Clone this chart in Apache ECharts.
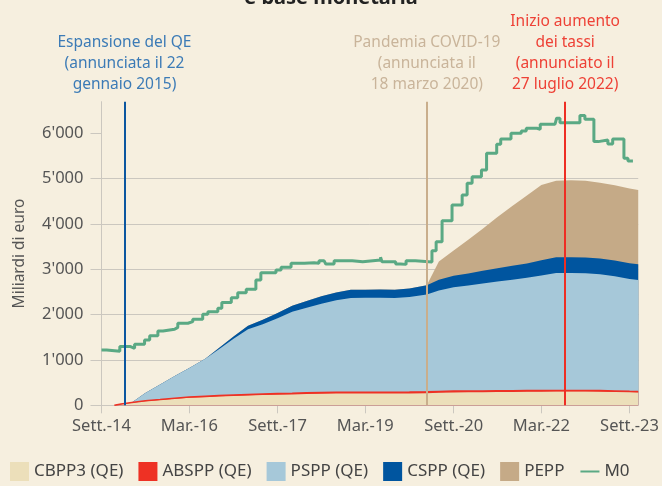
<!DOCTYPE html>
<html>
<head>
<meta charset="utf-8">
<script src="https://cdn.jsdelivr.net/npm/echarts@6/dist/echarts.min.js"></script>
<style>
  html, body { margin: 0; padding: 0; background: #f6efdf; }
  #chart { width: 662px; height: 486px; }
</style>
</head>
<body>
<div id="chart"></div>
<script>
// date grid shared by the APP/PEPP areas
const dates = ['2014-11-20', '2015-01-01', '2015-03-09', '2015-06-01', '2015-09-01', '2015-12-01',
  '2016-03-01', '2016-06-08', '2016-09-01', '2016-12-01', '2017-03-01', '2017-06-01', '2017-09-01',
  '2017-12-01', '2018-03-01', '2018-06-01', '2018-09-01', '2018-12-01', '2019-03-01', '2019-06-01',
  '2019-09-01', '2019-12-01', '2020-03-18', '2020-06-01', '2020-09-01', '2020-12-01', '2021-03-01',
  '2021-06-01', '2021-09-01', '2021-12-01', '2022-03-01', '2022-06-01', '2022-09-01', '2022-12-01',
  '2023-03-01', '2023-06-01', '2023-09-01', '2023-10-25'];

// miliardi di euro
const cbpp3 = [0, 25, 55, 90, 115, 143, 165, 180, 193, 204, 215, 225, 235, 241, 248, 255, 259, 262, 262, 262,
  262, 263, 268, 276, 283, 287, 290, 293, 296, 298, 300, 302, 302, 302, 300, 295, 288, 285];
const abspp = [0, 2, 5, 8, 12, 15, 18, 20, 22, 23, 24, 25, 25, 25, 27, 27, 27, 28, 26, 26,
  27, 28, 29, 30, 30, 29, 28, 28, 27, 28, 27, 26, 25, 25, 24, 23, 22, 22];
const pspp = [0, 0, 0, 175, 330, 490, 640, 830, 1020, 1240, 1440, 1540, 1660, 1800, 1880, 1960, 2030, 2080, 2085, 2085,
  2080, 2100, 2150, 2230, 2290, 2330, 2370, 2410, 2450, 2490, 2540, 2590, 2590, 2585, 2570, 2530, 2480, 2460];
const cspp = [0, 0, 0, 0, 0, 0, 0, 0, 30, 52, 75, 100, 118, 132, 148, 162, 172, 178, 178, 180,
  180, 188, 200, 235, 255, 265, 280, 295, 305, 315, 335, 350, 352, 350, 348, 347, 346, 345];
const pepp = [0, 0, 0, 0, 0, 0, 0, 0, 0, 0, 0, 0, 0, 0, 0, 0, 0, 0, 0, 0,
  0, 0, 0, 400, 560, 740, 930, 1130, 1320, 1500, 1660, 1690, 1695, 1695, 1670, 1660, 1650, 1641];

// base monetaria (step changes)
const m0Dates = ['2014-09-01', '2014-10-03', '2014-12-24', '2015-02-25', '2015-03-26', '2015-05-27', '2015-06-28',
  '2015-08-18', '2015-09-19', '2015-11-30', '2015-12-20', '2016-02-21', '2016-03-22', '2016-05-23', '2016-06-24',
  '2016-08-25', '2016-09-19', '2016-11-17', '2016-12-27', '2017-02-18', '2017-04-19', '2017-05-20', '2017-08-22',
  '2017-09-23', '2017-11-24', '2018-02-15', '2018-04-16', '2018-05-17', '2018-06-17', '2018-06-28', '2018-08-19',
  '2018-12-10', '2019-02-13', '2019-06-04', '2019-06-13', '2019-09-06', '2019-10-07', '2019-11-10', '2020-01-07',
  '2020-04-19', '2020-05-15', '2020-06-21', '2020-08-22', '2020-10-24', '2020-11-24', '2020-12-25', '2021-02-21',
  '2021-03-25', '2021-05-27', '2021-06-21', '2021-08-24', '2021-10-27', '2021-11-27', '2022-02-01', '2022-02-22',
  '2022-05-25', '2022-06-04', '2022-06-25', '2022-10-27', '2022-11-27', '2023-01-22', '2023-02-18', '2023-04-19',
  '2023-05-19', '2023-07-28', '2023-08-22', '2023-09-22'];
const m0 = [1220, 1192, 1300, 1258, 1350, 1440, 1535,
  1640, 1677, 1720, 1810, 1846, 1898, 2009, 2066,
  2141, 2270, 2375, 2486, 2561, 2766, 2927, 2987,
  3046, 3135, 3148, 3135, 3192, 3157, 3119, 3192,
  3170, 3208, 3267, 3170, 3119, 3110, 3192, 3165,
  3413, 3612, 4075, 4422, 4642, 4900, 5046, 5194,
  5563, 5761, 5879, 6004, 6055, 6114, 6093, 6203,
  6238, 6335, 6238, 6393, 6313, 5819, 5856, 5768,
  5879, 5452, 5393, 5393];

const xTickDates = ['2014-09-01', '2016-03-01', '2017-09-01', '2019-03-01', '2020-09-01', '2022-03-01', '2023-09-01'];
const xTickLabels = ['Sett.-14', 'Mar.-16', 'Sett.-17', 'Mar.-19', 'Sett.-20', 'Mar.-22', 'Sett.-23'];
const yTicks = [0, 1000, 2000, 3000, 4000, 5000, 6000];

const events = [
  { date: '2015-01-22', text: 'Espansione del QE\n(annunciata il 22\ngennaio 2015)', line: '#0b56a0', color: '#3c7bb6' },
  { date: '2020-03-18', text: 'Pandemia COVID-19\n(annunciata il\n18 marzo 2020)', line: '#c9ae8c', color: '#c9b49a' },
  { date: '2022-07-27', text: 'Inizio aumento\ndei tassi\n(annunciato il\n27 luglio 2022)', line: '#ee2e24', color: '#ee4136' }
];

function ts(s) {
  const p = s.split('-').map(Number);
  return Date.UTC(p[0], p[1] - 1, p[2]);
}

const xTicks = xTickDates.map(ts);
const font = 'Noto Sans';
const gridColor = '#cbc7bf';

// cumulative layers, the top layer is drawn first and the lower ones over it
const layers = [
  { name: 'CBPP3 (QE)', values: cbpp3, color: '#ecdfba' },
  { name: 'ABSPP (QE)', values: abspp, color: '#ee3124', line: 1.5 },
  { name: 'PSPP (QE)', values: pspp, color: '#a6c8d9' },
  { name: 'CSPP (QE)', values: cspp, color: '#00559f' },
  { name: 'PEPP', values: pepp, color: '#c5aa87' }
];
let running = dates.map(() => 0);
const areaSeries = layers.map(l => {
  running = running.map((s, i) => s + l.values[i]);
  return {
    name: l.name,
    type: 'line',
    symbol: 'none',
    data: dates.map((d, i) => [ts(d), running[i]]),
    lineStyle: { width: l.line || 0, color: l.color },
    itemStyle: { color: l.color },
    areaStyle: { color: l.color, opacity: 1 }
  };
}).reverse();

const chart = echarts.init(document.getElementById('chart'));

chart.setOption({
  animation: false,
  backgroundColor: '#f6efdf',
  textStyle: { fontFamily: font },
  title: {
    text: 'e base monetaria',
    left: 'center',
    top: -17,
    textStyle: { fontSize: 20, fontWeight: 'bold', color: '#222', fontFamily: font }
  },
  grid: { left: 101.5, right: 21.4, top: 101.7, bottom: 80.7 },
  legend: {
    left: 5,
    top: 457,
    itemWidth: 19,
    itemHeight: 19,
    itemGap: 15,
    textStyle: { fontSize: 17, color: '#444', fontFamily: font },
    data: [
      { name: 'CBPP3 (QE)', icon: 'rect' },
      { name: 'ABSPP (QE)', icon: 'rect' },
      { name: 'PSPP (QE)', icon: 'rect' },
      { name: 'CSPP (QE)', icon: 'rect' },
      { name: 'PEPP', icon: 'rect' },
      { name: 'M0', itemStyle: { opacity: 0 } }
    ]
  },
  xAxis: {
    type: 'value',
    min: ts('2014-09-01'),
    max: ts('2023-10-25'),
    axisLine: { show: true, lineStyle: { color: gridColor } },
    axisTick: { show: true, length: 8, customValues: xTicks, lineStyle: { color: gridColor } },
    axisLabel: {
      customValues: xTicks,
      formatter: v => xTickLabels[xTicks.indexOf(v)] || '',
      color: '#555', fontSize: 16.5, margin: 12, fontFamily: font
    },
    splitLine: { show: false }
  },
  yAxis: {
    type: 'value',
    min: 0,
    max: 6700,
    interval: 1000,
    name: 'Miliardi di euro',
    nameLocation: 'middle',
    nameGap: 74,
    nameTextStyle: { fontSize: 15.5, color: '#555', fontFamily: font },
    axisLine: { show: true, lineStyle: { color: gridColor } },
    axisTick: { show: true, length: 11, customValues: yTicks, lineStyle: { color: gridColor } },
    axisLabel: {
      customValues: yTicks,
      formatter: v => v === 0 ? '0' : (v / 1000) + "'000",
      color: '#555', fontSize: 16.5, margin: 18, fontFamily: font
    },
    splitLine: { show: true, showMaxLine: false, lineStyle: { color: gridColor } }
  },
  series: areaSeries.concat([
    {
      name: 'M0',
      type: 'line',
      step: 'end',
      symbol: 'none',
      data: m0Dates.map((d, i) => [ts(d), m0[i]]),
      lineStyle: { width: 3, color: '#5aa984' },
      itemStyle: { color: '#5aa984' },
      z: 3
    },
    {
      name: 'eventi',
      type: 'line',
      data: [],
      z: 4,
      markLine: {
        symbol: 'none',
        silent: true,
        data: events.map(e => ({
          xAxis: ts(e.date),
          lineStyle: { color: e.line, width: 2, type: 'solid' },
          label: {
            show: true, position: 'end', formatter: e.text, color: e.color,
            fontSize: 15.5, lineHeight: 21, distance: 7, fontFamily: font
          }
        }))
      }
    }
  ])
});
</script>
</body>
</html>
